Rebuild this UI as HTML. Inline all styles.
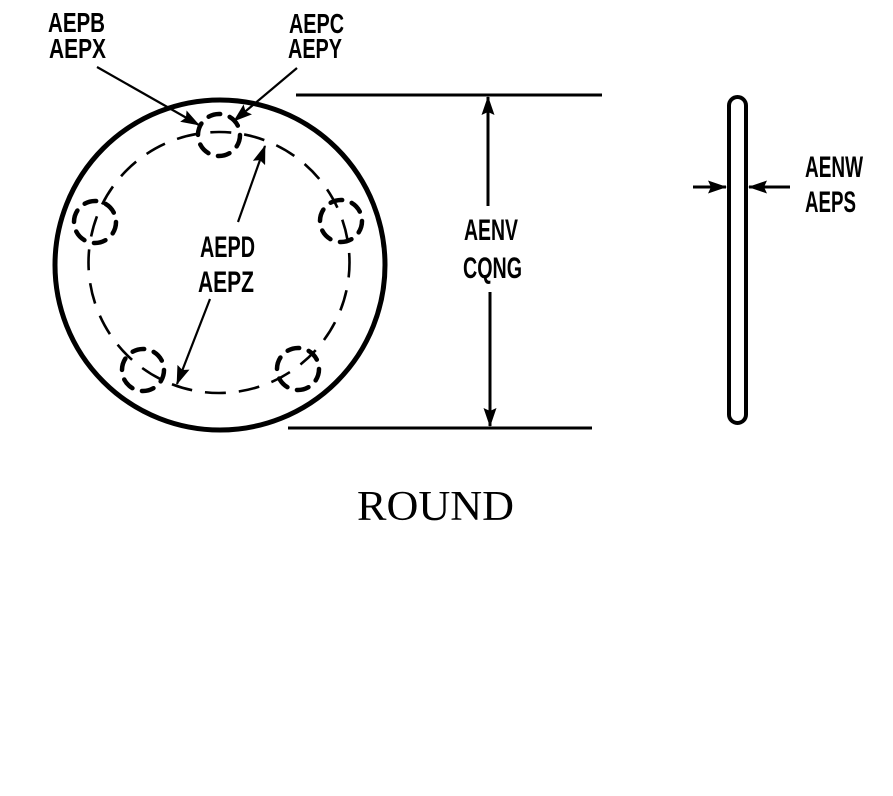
<!DOCTYPE html>
<html><head><meta charset="utf-8"><style>
html,body{margin:0;padding:0;background:#fff;}
svg{display:block;}
text{font-family:"Liberation Sans",sans-serif;font-weight:bold;fill:#000;}
</style></head><body>
<svg width="893" height="796" viewBox="0 0 893 796" xmlns="http://www.w3.org/2000/svg">
<defs>
<marker id="ah" viewBox="0 0 19 13" refX="18" refY="6.5" markerWidth="19" markerHeight="13" markerUnits="userSpaceOnUse" orient="auto">
<path d="M0,0 L19,6.5 L0,13 L3,6.5 Z" fill="#000"/>
</marker>
</defs>
<!-- outer circle -->
<circle cx="220" cy="265" r="165" fill="none" stroke="#000" stroke-width="5"/>
<!-- bolt circle -->
<circle cx="219" cy="262.5" r="130.5" fill="none" stroke="#000" stroke-width="2.6" stroke-dasharray="21 13" stroke-dashoffset="6"/>
<!-- holes -->
<g fill="none" stroke="#000" stroke-width="4.5" stroke-linecap="round" stroke-dasharray="12 10">
<circle cx="219" cy="135" r="21"/>
<circle cx="95" cy="222" r="21"/>
<circle cx="341" cy="221" r="21"/>
<circle cx="143" cy="370" r="21"/>
<circle cx="298" cy="369" r="21"/>
</g>
<!-- leaders -->
<g stroke="#000" stroke-width="2.2" fill="none">
<line x1="97" y1="67" x2="199" y2="125" marker-end="url(#ah)"/>
<line x1="297" y1="68" x2="234" y2="121" marker-end="url(#ah)"/>
<line x1="238" y1="222" x2="265" y2="146" marker-end="url(#ah)"/>
<line x1="210" y1="299" x2="177" y2="384" marker-end="url(#ah)"/>
</g>
<!-- dimension lines -->
<g stroke="#000" stroke-width="3" fill="none">
<line x1="296" y1="95" x2="602" y2="95"/>
<line x1="288" y1="428" x2="592" y2="428"/>
<line x1="488" y1="206" x2="488" y2="97" marker-end="url(#ah)"/>
<line x1="490" y1="292" x2="490" y2="426" marker-end="url(#ah)"/>
</g>
<!-- slot -->
<rect x="729" y="97" width="17" height="326" rx="8.5" ry="8.5" fill="none" stroke="#000" stroke-width="4"/>
<g stroke="#000" stroke-width="3" fill="none">
<line x1="693" y1="187" x2="726" y2="187" marker-end="url(#ah)"/>
<line x1="790" y1="187" x2="749" y2="187" marker-end="url(#ah)"/>
</g>
<!-- labels -->
<text x="48" y="32" font-size="28" textLength="57" lengthAdjust="spacingAndGlyphs">AEPB</text>
<text x="49" y="58" font-size="28" textLength="57" lengthAdjust="spacingAndGlyphs">AEPX</text>
<text x="289" y="33" font-size="28" textLength="55" lengthAdjust="spacingAndGlyphs">AEPC</text>
<text x="288" y="58" font-size="28" textLength="54" lengthAdjust="spacingAndGlyphs">AEPY</text>
<text x="200" y="257" font-size="30" textLength="55" lengthAdjust="spacingAndGlyphs">AEPD</text>
<text x="198" y="292" font-size="30" textLength="56" lengthAdjust="spacingAndGlyphs">AEPZ</text>
<text x="464" y="240" font-size="30" textLength="54" lengthAdjust="spacingAndGlyphs">AENV</text>
<text x="463" y="278" font-size="30" textLength="59" lengthAdjust="spacingAndGlyphs">CQNG</text>
<text x="805" y="177" font-size="30" textLength="58" lengthAdjust="spacingAndGlyphs">AENW</text>
<text x="805" y="212" font-size="30" textLength="51" lengthAdjust="spacingAndGlyphs">AEPS</text>
<text x="357" y="520" font-size="42" textLength="157" lengthAdjust="spacingAndGlyphs" style="font-family:'Liberation Serif',serif;font-weight:normal;">ROUND</text>
</svg>
</body></html>
